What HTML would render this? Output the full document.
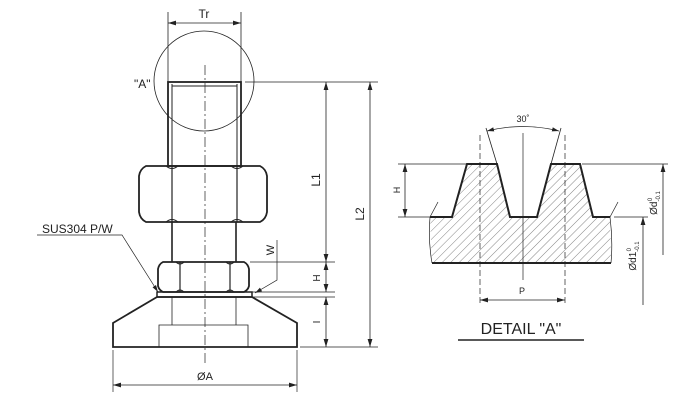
<!DOCTYPE html>
<html><head><style>html,body{margin:0;padding:0;background:#fff}svg{display:block}</style></head>
<body>
<svg width="700" height="400" viewBox="0 0 700 400" xmlns="http://www.w3.org/2000/svg" font-family="Liberation Sans, sans-serif">
<defs>
<marker id="a" viewBox="0 0 10 6" refX="10" refY="3" markerWidth="10" markerHeight="6" orient="auto-start-reverse"><path d="M0,0L10,3L0,6z" fill="#222"/></marker>
<pattern id="h" width="6" height="6" patternUnits="userSpaceOnUse" patternTransform="rotate(45)"><line x1="0" y1="0" x2="0" y2="6" stroke="#666" stroke-width="0.8"/></pattern>
</defs>
<g stroke="#222" fill="none">
<line x1="168" y1="12" x2="168" y2="82" stroke-width="0.8"/>
<line x1="241" y1="12" x2="241" y2="82" stroke-width="0.8"/>
<line x1="168" y1="23" x2="241" y2="23" stroke-width="0.8" marker-start="url(#a)" marker-end="url(#a)"/>
<circle cx="204" cy="81" r="50" stroke-width="0.8"/>
<line x1="205" y1="65" x2="205" y2="365" stroke-width="0.7" stroke-dasharray="10,3,2,3"/>
<rect x="168" y="82" width="73" height="84" stroke-width="1.8"/>
<line x1="172" y1="84" x2="172" y2="166" stroke-width="1"/>
<line x1="237" y1="84" x2="237" y2="166" stroke-width="1"/>
<line x1="172" y1="86" x2="237" y2="86" stroke-width="1"/>
<!-- big nut -->
<path d="M146,166 L260,166 Q266,169 267,176 L267,212 Q266,219 260,222 L146,222 Q140,219 139,212 L139,176 Q140,169 146,166Z" stroke-width="1.8"/>
<path d="M172,166 L172,222 M237,166 L237,222" stroke-width="1.2"/>
<path d="M166,166 Q172,171 178,166 M231,166 Q237,171 243,166 M166,222 Q172,217 178,222 M231,222 Q237,217 243,222" stroke-width="1"/>
<line x1="172" y1="222" x2="172" y2="262" stroke-width="1.6"/>
<line x1="236" y1="222" x2="236" y2="262" stroke-width="1.6"/>
<!-- small nut -->
<path d="M163,262 L244,262 Q248,264 249,269 L249,286 Q248,290 244,292 L163,292 Q159,290 158,286 L158,269 Q159,264 163,262Z" stroke-width="1.8"/>
<path d="M180,262 L180,292 M230,262 L230,292" stroke-width="1.2"/>
<path d="M176,262 Q180,266 184,262 M226,262 Q230,266 234,262 M176,292 Q180,288 184,292 M226,292 Q230,288 234,292" stroke-width="1"/>
<rect x="157" y="292" width="95" height="5" stroke-width="1.5"/>
<path d="M157,297 L252,297 L297,323 L297,347 L113,347 L113,323 Z" stroke-width="1.8"/>
<line x1="172" y1="297" x2="172" y2="325" stroke-width="0.8"/>
<line x1="236" y1="297" x2="236" y2="325" stroke-width="0.8"/>
<path d="M159,347 L159,325 L248,325 L248,347" stroke-width="0.8"/>
<line x1="245" y1="82" x2="378" y2="82" stroke-width="0.7"/>
<line x1="300" y1="347" x2="378" y2="347" stroke-width="0.7"/>
<line x1="250" y1="262" x2="335" y2="262" stroke-width="0.7"/>
<line x1="252" y1="292" x2="335" y2="292" stroke-width="0.7"/>
<line x1="252" y1="297" x2="335" y2="297" stroke-width="0.7"/>
<line x1="326" y1="82" x2="326" y2="262" stroke-width="0.8" marker-start="url(#a)" marker-end="url(#a)"/>
<line x1="326" y1="262" x2="326" y2="292" stroke-width="0.8" marker-start="url(#a)" marker-end="url(#a)"/>
<line x1="326" y1="297" x2="326" y2="347" stroke-width="0.8" marker-start="url(#a)" marker-end="url(#a)"/>
<line x1="370" y1="82" x2="370" y2="347" stroke-width="0.8" marker-start="url(#a)" marker-end="url(#a)"/>
<path d="M277,240 L277,280 L255,293" stroke-width="0.7" marker-end="url(#a)"/>
<path d="M37,235 L122,235 L158,292" stroke-width="0.7" marker-end="url(#a)"/>
<line x1="113" y1="350" x2="113" y2="392" stroke-width="0.7"/>
<line x1="297" y1="350" x2="297" y2="392" stroke-width="0.7"/>
<line x1="113" y1="385" x2="297" y2="385" stroke-width="0.8" marker-start="url(#a)" marker-end="url(#a)"/>

<path d="M430,217 L452,217 L467,164 L497,164 L510,217 L537,217 L551,164 L580,164 L593,217 L610,217 L611,263 L432,263 Z" fill="url(#h)" stroke="none"/>
<path d="M430,217 L452,217 L467,164 L497,164 L510,217 L537,217 L551,164 L580,164 L593,217 L610,217" stroke-width="2"/>
<line x1="432" y1="263" x2="611" y2="263" stroke-width="2"/>
<path d="M430,217 Q428,240 432,263 M610,217 Q613,240 611,263" stroke-width="0.7"/>
<line x1="430" y1="217" x2="438" y2="202" stroke-width="0.7"/>
<line x1="610" y1="217" x2="618" y2="202" stroke-width="0.7"/>
<line x1="480" y1="135" x2="480" y2="305" stroke-width="0.7" stroke-dasharray="6,3"/>
<line x1="565" y1="135" x2="565" y2="305" stroke-width="0.7" stroke-dasharray="6,3"/>
<line x1="523" y1="133" x2="523" y2="280" stroke-width="0.7"/>
<line x1="486" y1="128" x2="497" y2="164" stroke-width="0.8"/>
<line x1="561" y1="128" x2="551" y2="164" stroke-width="0.8"/>
<path d="M487,131 Q523,122 559,131" stroke-width="0.7" marker-start="url(#a)" marker-end="url(#a)"/>
<line x1="398" y1="164" x2="466" y2="164" stroke-width="0.7"/>
<line x1="398" y1="217" x2="430" y2="217" stroke-width="0.7"/>
<line x1="405" y1="164" x2="405" y2="217" stroke-width="0.8" marker-start="url(#a)" marker-end="url(#a)"/>
<line x1="582" y1="164" x2="668" y2="164" stroke-width="0.7"/>
<line x1="614" y1="217" x2="648" y2="217" stroke-width="0.7"/>
<line x1="663" y1="164" x2="663" y2="255" stroke-width="0.8" marker-start="url(#a)"/>
<line x1="643" y1="217" x2="643" y2="305" stroke-width="0.8" marker-start="url(#a)"/>
<line x1="480" y1="300" x2="565" y2="300" stroke-width="0.8" marker-start="url(#a)" marker-end="url(#a)"/>
<line x1="458" y1="340" x2="584" y2="340" stroke-width="1.5"/>
</g>
<g fill="#222" stroke="none">
<text x="204" y="18" font-size="12" text-anchor="middle">Tr</text>
<text x="134" y="88" font-size="12">"A"</text>
<text x="42" y="233" font-size="12">SUS304 P/W</text>
<text x="205" y="380" font-size="11" text-anchor="middle">ØA</text>
<text transform="translate(320,180) rotate(-90)" font-size="12" text-anchor="middle">L1</text>
<text transform="translate(364,214) rotate(-90)" font-size="12" text-anchor="middle">L2</text>
<text transform="translate(320,278) rotate(-90)" font-size="10" text-anchor="middle">H</text>
<text transform="translate(320,322) rotate(-90)" font-size="10" text-anchor="middle">I</text>
<text transform="translate(274,250) rotate(-90)" font-size="11" text-anchor="middle">W</text>
<text x="523" y="122" font-size="9" text-anchor="middle">30˚</text>
<text transform="translate(400,190) rotate(-90)" font-size="9" text-anchor="middle">H</text>
<text x="522" y="294" font-size="9" text-anchor="middle">P</text>
<text transform="translate(657,203) rotate(-90)" font-size="10" text-anchor="middle">Ød<tspan font-size="6" dy="3">-0.1</tspan><tspan font-size="6" dx="-10" dy="-8">0</tspan></text>
<text transform="translate(636,256) rotate(-90)" font-size="10" text-anchor="middle">Ød1<tspan font-size="6" dy="3">-0.1</tspan><tspan font-size="6" dx="-10" dy="-8">0</tspan></text>
<text x="521" y="334" font-size="16" text-anchor="middle">DETAIL "A"</text>
</g>
</svg>
</body></html>
